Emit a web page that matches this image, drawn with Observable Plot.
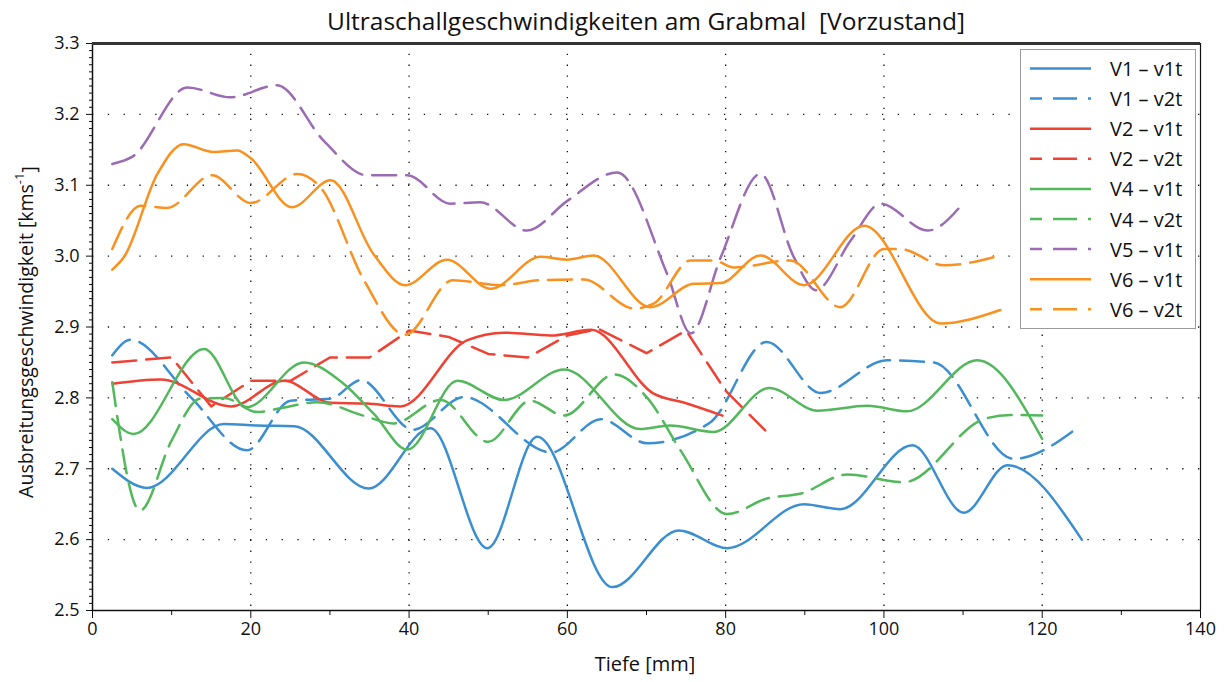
<!DOCTYPE html>
<html><head><meta charset="utf-8">
<script src="https://cdn.jsdelivr.net/npm/d3@7"></script>
<script src="https://cdn.jsdelivr.net/npm/@observablehq/plot@0.6"></script>
<style>
body{margin:0;background:#fff;font-family:"Open Sans",sans-serif;}
#wrap{position:relative;width:1229px;height:682px;overflow:hidden;}
#title{position:absolute;left:92px;width:1108px;top:0;height:40px;line-height:42px;font-size:24.5px;text-align:center;color:#111;white-space:pre;}
#chart{position:absolute;left:0;top:40px;}
#chart svg{overflow:visible;}
#legend{position:absolute;left:1020px;top:49px;width:174px;height:278px;border:1px solid #9a9a9a;background:#fff;}
</style></head>
<body><div id="wrap"><div id="title"></div><div id="chart"></div><div id="legend"></div></div>
<script>
const titleText = "Ultraschallgeschwindigkeiten am Grabmal  [Vorzustand]";
const xLabel = "Tiefe [mm]";
const yLabelMain = "Ausbreitungsgeschwindigkeit [kms";
const yLabelSup = "-1";
const yLabelEnd = "]";
const xDomain = [0, 140];
const yDomain = [2.5, 3.3];
const xTicks = [0, 20, 40, 60, 80, 100, 120, 140];
const yTicks = [2.5, 2.6, 2.7, 2.8, 2.9, 3.0, 3.1, 3.2, 3.3];

const seriesNames = ["V1 – v1t","V1 – v2t","V2 – v1t","V2 – v2t","V4 – v1t","V4 – v2t","V5 – v1t","V6 – v1t","V6 – v2t"];
const seriesColors = ["#3b8fd0","#3b8fd0","#ee4234","#ee4234","#52b85b","#52b85b","#9b6bb4","#f8911f","#f8911f"];
const seriesDashed = [false,true,false,true,false,true,true,false,true];
const seriesLinear = [false,false,false,true,false,false,false,false,false];

const v1_v1t_x = [2.5,6.9,16.6,20.8,25.5,34.9,42.7,49.9,56.2,65.7,74.1,80.2,89.9,94.5,103.6,110.1,115.6,125];
const v1_v1t_y = [2.700,2.673,2.763,2.761,2.760,2.672,2.757,2.588,2.745,2.533,2.613,2.588,2.650,2.643,2.733,2.638,2.705,2.600];

const v1_v2t_x = [2.5,4.8,12.4,19.5,25,30.1,33.9,40.5,46.9,58,64.2,70.1,78,85.2,92,100.4,106.3,116.4,124.6];
const v1_v2t_y = [2.860,2.882,2.801,2.726,2.796,2.799,2.825,2.755,2.801,2.723,2.770,2.736,2.765,2.879,2.807,2.853,2.850,2.714,2.759];

const v2_v1t_x = [2.5,8.6,17.5,24.2,30.1,34.7,38.9,47.3,52,57.9,63,70.9,75.1,79.6];
const v2_v1t_y = [2.820,2.826,2.788,2.824,2.793,2.792,2.788,2.881,2.892,2.888,2.896,2.806,2.792,2.775];

const v2_v2t_x = [2.5,10,15,20,25,30,35,40,45,50,55,60,64,70,75,80,85];
const v2_v2t_y = [2.850,2.857,2.788,2.824,2.824,2.857,2.857,2.895,2.886,2.862,2.857,2.888,2.897,2.863,2.895,2.810,2.754];

const v4_v1t_x = [2.5,5.2,14.1,19.5,26.7,31.5,35.5,39.8,46.1,52,59.6,69.2,73,78.5,85.5,91.6,97.9,102.9,111.8,120];
const v4_v1t_y = [2.770,2.749,2.869,2.787,2.850,2.822,2.778,2.727,2.824,2.797,2.840,2.756,2.761,2.752,2.814,2.782,2.789,2.781,2.853,2.742];

const v4_v2t_x = [2.5,6,10,13.6,16.6,20.8,24,28.4,34.2,38,44,50,55.3,59.6,65.9,70.1,74.3,80.2,85.2,89.5,95.4,102.5,112.6,116,120];
const v4_v2t_y = [2.822,2.641,2.740,2.799,2.800,2.780,2.786,2.794,2.775,2.764,2.797,2.738,2.796,2.775,2.833,2.800,2.726,2.636,2.658,2.665,2.692,2.681,2.770,2.776,2.775];

const v5_v1t_x = [2.5,5,12,17.4,23.3,29.2,34.7,39.8,45.2,49,54.9,60,66.3,72.6,75.6,79.4,84.4,88.6,91.4,95.8,99.6,105.5,110.1];
const v5_v1t_y = [3.130,3.140,3.238,3.224,3.241,3.163,3.114,3.114,3.074,3.076,3.036,3.078,3.118,2.975,2.891,2.999,3.116,2.999,2.952,3.022,3.074,3.036,3.076];

const v6_v1t_x = [2.5,4,8.2,11.5,15.3,18.3,20,25.2,30.1,35.5,39.5,44.8,50.3,56.6,60,63.3,70.5,76,79.4,84.4,89.9,97.5,107.2,114.7];
const v6_v1t_y = [2.981,2.999,3.116,3.158,3.147,3.149,3.138,3.069,3.107,3.003,2.959,2.995,2.954,2.999,2.995,3.001,2.928,2.961,2.962,3.001,2.959,3.043,2.905,2.924];

const v6_v2t_x = [2.5,6.1,9.4,15.1,20,25.9,28.8,34.3,39.5,45.5,51.6,56.6,62.1,68.4,70.9,75.6,78.5,81,88.2,94.5,100,102.1,107.6,114.7];
const v6_v2t_y = [3.010,3.071,3.068,3.114,3.075,3.116,3.097,2.966,2.889,2.966,2.959,2.966,2.967,2.926,2.933,2.994,2.994,2.984,2.994,2.928,3.010,3.010,2.987,3.001];

const seriesX = [v1_v1t_x,v1_v2t_x,v2_v1t_x,v2_v2t_x,v4_v1t_x,v4_v2t_x,v5_v1t_x,v6_v1t_x,v6_v2t_x];
const seriesY = [v1_v1t_y,v1_v2t_y,v2_v1t_y,v2_v2t_y,v4_v1t_y,v4_v2t_y,v5_v1t_y,v6_v1t_y,v6_v2t_y];

document.getElementById("title").textContent = titleText;

const minorY = d3.range(250, 331).map(d => d / 100).filter(d => !yTicks.some(t => Math.abs(t - d) < 1e-9));
const minorX = d3.range(10, 140, 20);
const gridY = yTicks.slice(1, -1);
const gridX = xTicks.slice(1, -1);

const DASH = "24,10";
const lineMarks = seriesNames.map((name, i) => Plot.line(
  seriesX[i].map((x, j) => ({x, y: seriesY[i][j]})),
  {x: "x", y: "y", stroke: seriesColors[i], strokeWidth: 2.5,
   strokeDasharray: seriesDashed[i] ? DASH : null,
   curve: seriesLinear[i] ? "linear" : "monotone-x"}
));

const chart = Plot.plot({
  width: 1229, height: 642,
  marginTop: 3, marginBottom: 72, marginLeft: 92, marginRight: 29,
  x: {domain: xDomain},
  y: {domain: yDomain},
  style: {fontFamily: "Open Sans, sans-serif", fontSize: "18px", color: "#111", background: "white", overflow: "visible"},
  marks: [
    Plot.gridY(gridY, {stroke: "#111", strokeOpacity: 1, strokeWidth: 1.3, strokeDasharray: "1.3,14.5"}),
    Plot.gridX(gridX, {stroke: "#111", strokeOpacity: 1, strokeWidth: 1.3, strokeDasharray: "1.3,9.5"}),
    ...lineMarks,
    Plot.axisY(minorY, {tickSize: 3, tickFormat: null, text: null, label: null, stroke: "#111"}),
    Plot.axisY(yTicks, {tickSize: 6, tickPadding: 7, tickFormat: ".1f", label: null, stroke: "#111", fontSize: 18}),
    Plot.axisX(minorX, {tickSize: 5, text: null, label: null, stroke: "#111"}),
    Plot.axisX(xTicks, {tickSize: 8, tickPadding: 4, tickFormat: d => String(d), label: null, stroke: "#111", fontSize: 18}),
    Plot.ruleY([yDomain[0]], {stroke: "#111", strokeWidth: 1.5}),
    Plot.ruleX([xDomain[0]], {stroke: "#111", strokeWidth: 1.5}),
    Plot.ruleY([yDomain[1]], {stroke: "#333", strokeWidth: 3}),
    Plot.ruleX([xDomain[1]], {stroke: "#111", strokeWidth: 1.2})
  ]
});
document.getElementById("chart").appendChild(chart);

const svg = d3.select(chart);
const yl = svg.append("text")
  .attr("transform", "translate(25,292) rotate(-90)")
  .attr("text-anchor", "middle").attr("dominant-baseline", "central")
  .attr("font-size", 19.5).attr("fill", "#111");
yl.append("tspan").text(yLabelMain);
yl.append("tspan").attr("dy", "-0.45em").attr("font-size", 13).text(yLabelSup);
yl.append("tspan").attr("dy", "0.45em").text(yLabelEnd);
svg.append("text").attr("x", 645).attr("y", 623)
  .attr("text-anchor", "middle").attr("dominant-baseline", "central")
  .attr("font-size", 20).attr("fill", "#111").text(xLabel);

const lg = d3.select("#legend").append("svg").attr("width", 174).attr("height", 278)
  .style("font-family", "Open Sans, sans-serif");
seriesNames.forEach((name, i) => {
  const cy = 18.5 + i * 30.1;
  lg.append("line").attr("x1", 9).attr("x2", 70).attr("y1", cy).attr("y2", cy)
    .attr("stroke", seriesColors[i]).attr("stroke-width", 2.5)
    .attr("stroke-dasharray", seriesDashed[i] ? "24,11" : null)
    .attr("stroke-dashoffset", seriesDashed[i] ? 12 : null);
  lg.append("text").attr("x", 89).attr("y", cy).attr("dominant-baseline", "central")
    .attr("font-size", 20).attr("fill", "#111").text(name);
});
</script></body></html>
